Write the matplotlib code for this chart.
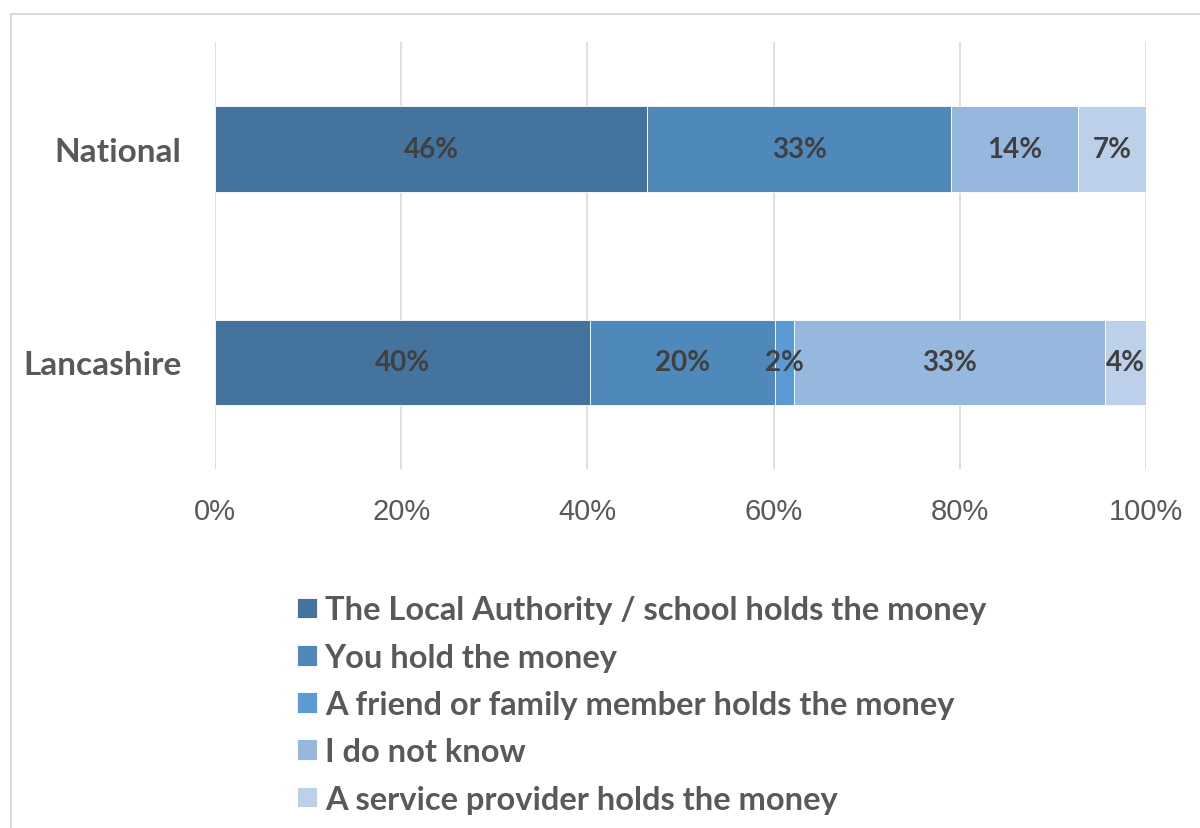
import matplotlib.pyplot as plt
from matplotlib.patches import Rectangle

regions = ['National', 'Lancashire']
series = [
    'The Local Authority / school holds the money',
    'You hold the money',
    'A friend or family member holds the money',
    'I do not know',
    'A service provider holds the money',
]
# percentage share per answer, one list per region order above
local_authority = [46.4, 40.3]
you_hold = [32.7, 19.9]
friend_family = [0.0, 2.0]
do_not_know = [13.6, 33.4]
service_provider = [7.3, 4.4]
values = [local_authority, you_hold, friend_family, do_not_know, service_provider]
colors = ['#44739e', '#4f88bb', '#5b9bd5', '#97b8de', '#bcd0ea']
ticks = [0, 20, 40, 60, 80, 100]

label_font = 'Lato'
fig = plt.figure(figsize=(12, 8.29), dpi=100)
ax = fig.add_axes([0.1792, 0.433, 0.7758, 0.515])

ypos = list(range(len(regions)))
left = [0.0] * len(regions)
bars = []
for name, vals, col in zip(series, values, colors):
    b = ax.barh(ypos, vals, left=left, height=0.4, color=col, label=name,
                edgecolor='white', linewidth=0.6, zorder=3)
    bars.append(b)
    for y, v, l in zip(ypos, vals, left):
        if v > 0:
            ax.text(l + v / 2, y, f'{v:.0f}%', ha='center', va='center',
                    fontsize=20, fontweight='bold', color='#404040',
                    family=label_font, zorder=4)
    left = [l + v for l, v in zip(left, vals)]

ax.set_xlim(0, 100)
ax.set_ylim(1.5, -0.5)
ax.set_xticks(ticks)
ax.set_xticklabels([f'{t}%' for t in ticks], fontsize=21,
                   family='Liberation Sans', color='#595959')
ax.set_yticks(ypos)
ax.set_yticklabels(regions, fontsize=24, fontweight='bold',
                   family=label_font, color='#595959')
ax.tick_params(axis='both', length=0)
ax.tick_params(axis='x', pad=20)
ax.tick_params(axis='y', pad=24)
ax.grid(axis='x', color='#d9d9d9', linewidth=1.2, zorder=0)
for s in ax.spines.values():
    s.set_visible(False)

leg = fig.legend(handles=bars, loc='upper left', bbox_to_anchor=(0.223, 0.316),
                 frameon=False, handlelength=0.6, handleheight=0.6,
                 handletextpad=0.25, labelspacing=0.56,
                 prop={'family': label_font, 'weight': 'bold', 'size': 23.5})
for t in leg.get_texts():
    t.set_color('#595959')

# chart border
fig.patches.append(Rectangle((0.0092, -0.05), 1.5, 0.982 + 0.05,
                             transform=fig.transFigure, fill=False,
                             edgecolor='#d9d9d9', linewidth=1.5))

fig.savefig('out.png', dpi=100)
